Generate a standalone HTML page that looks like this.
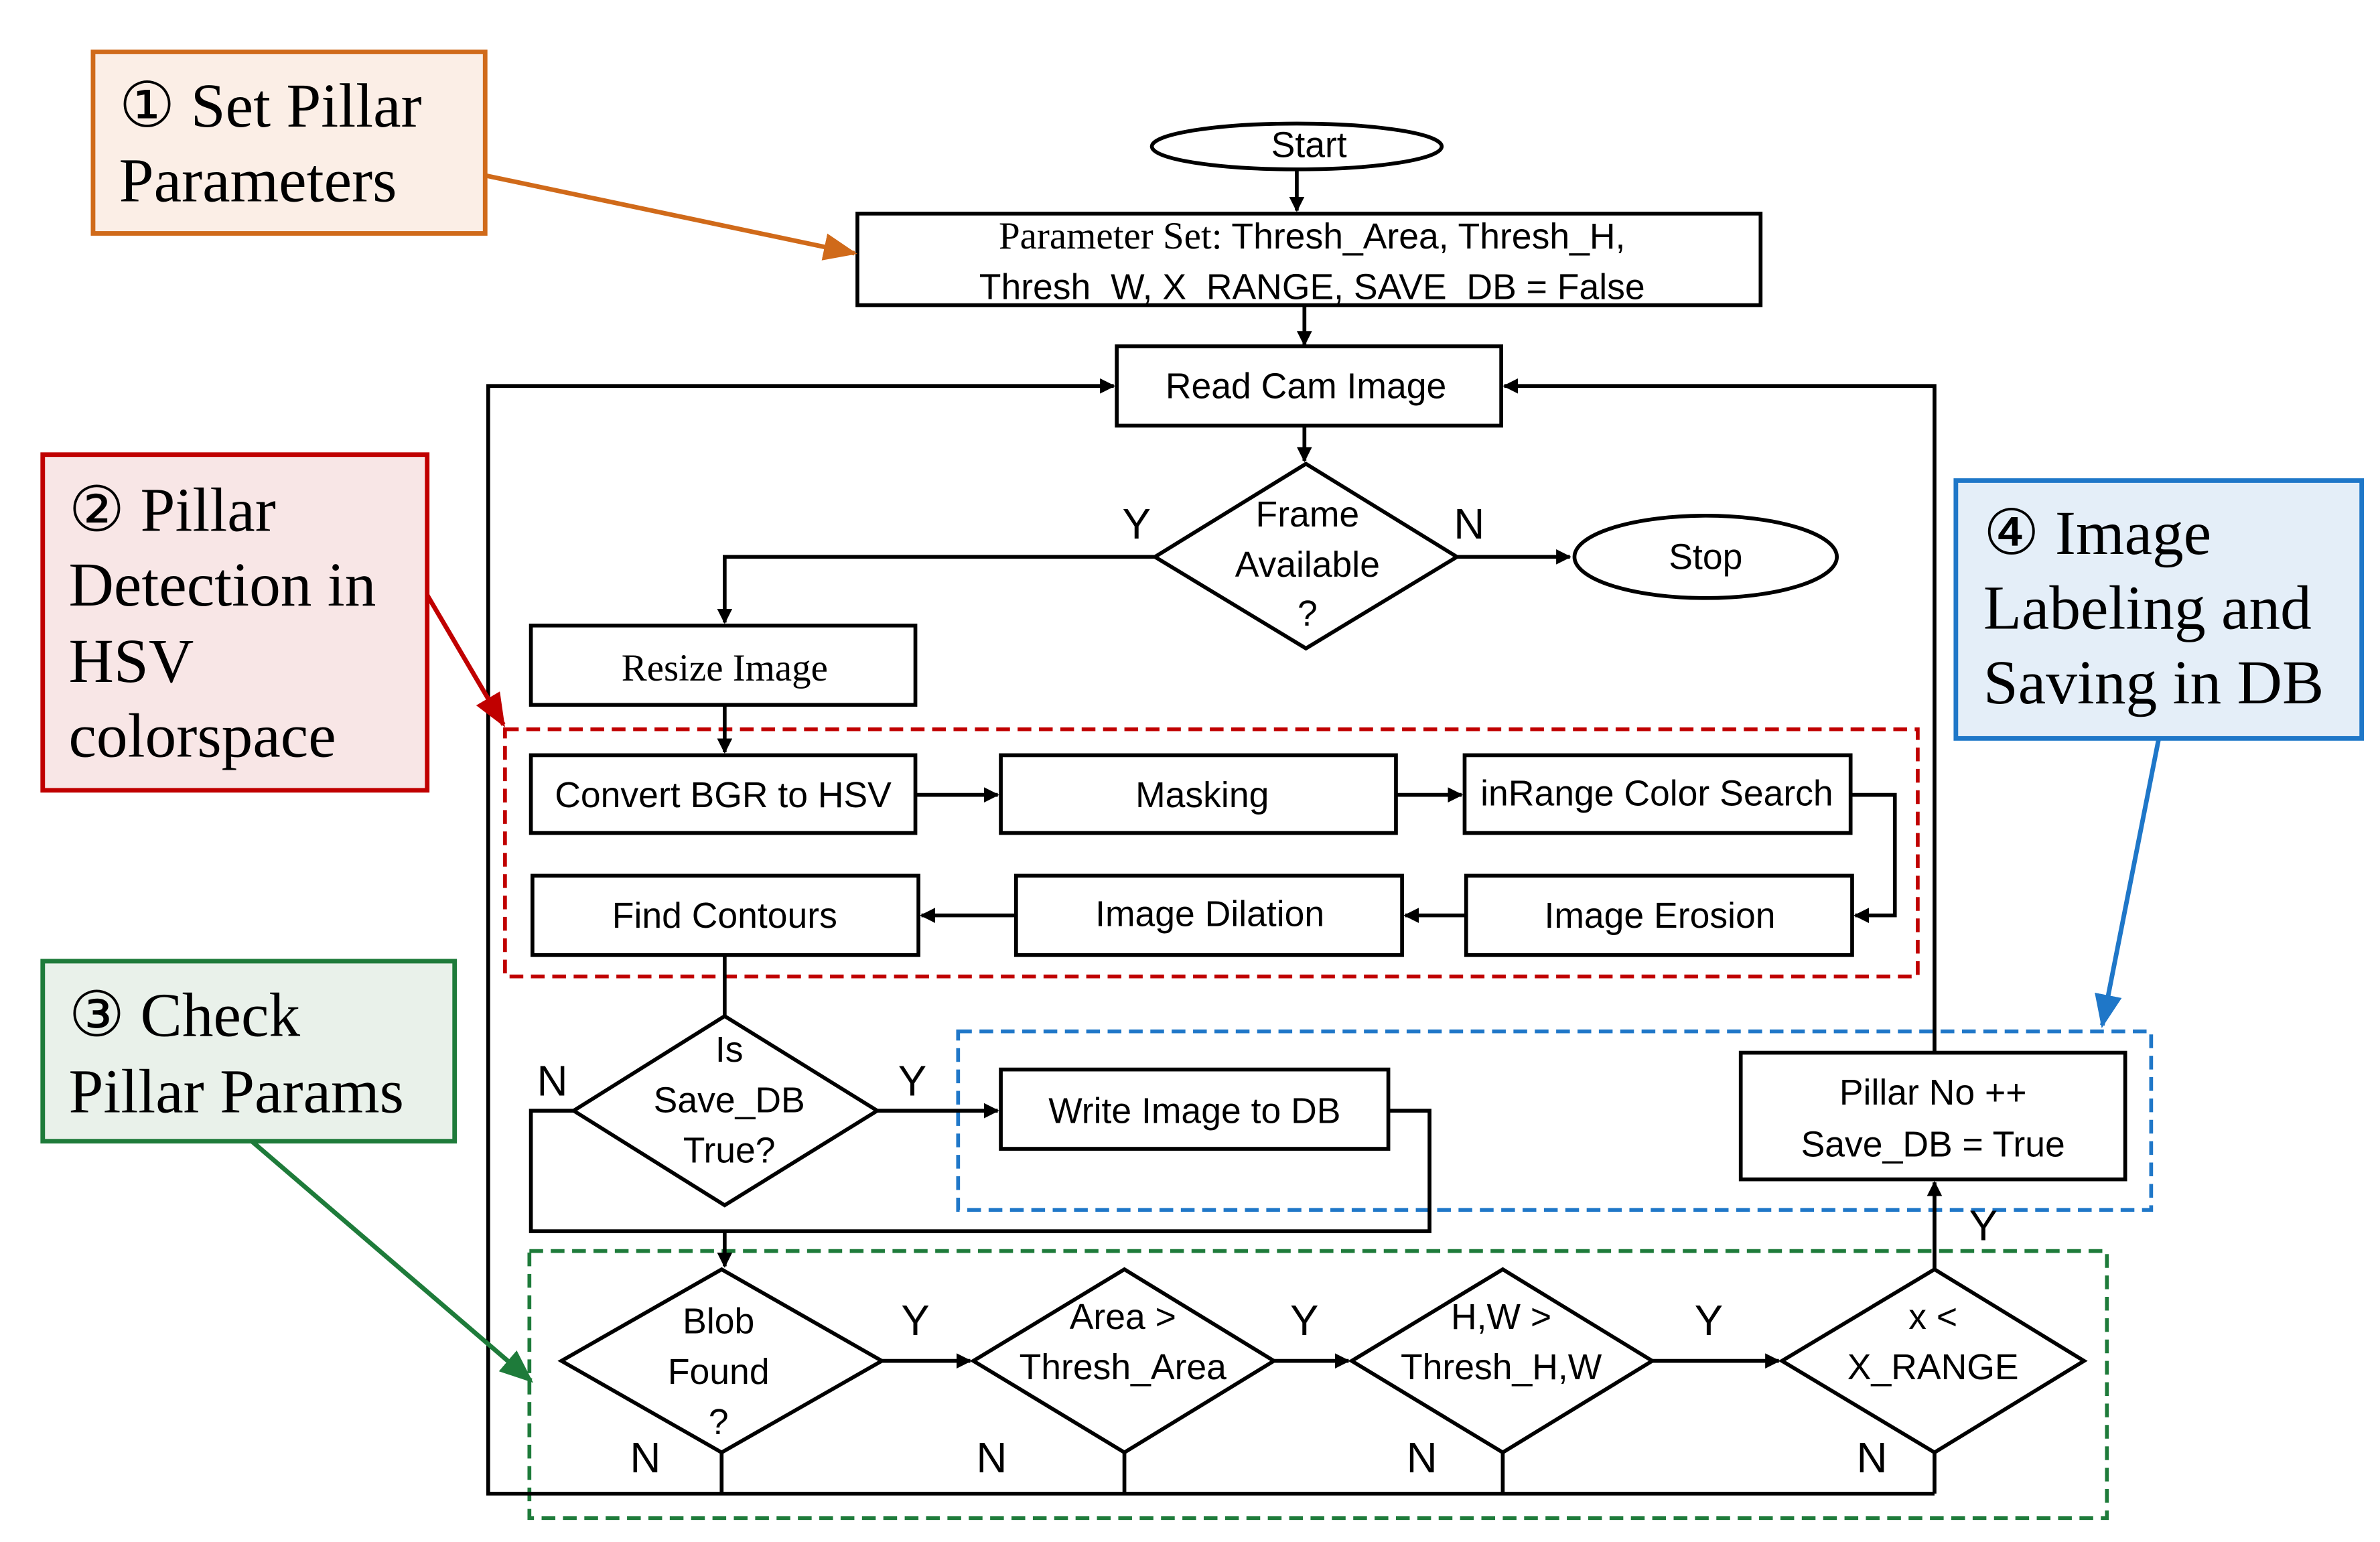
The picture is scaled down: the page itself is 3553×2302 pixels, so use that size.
<!DOCTYPE html>
<html><head><meta charset="utf-8"><style>
html,body{margin:0;padding:0;background:#fff;}
svg{display:block;}
.s{font-family:"Liberation Sans",sans-serif;font-size:23.5px;fill:#000;}
.r{font-family:"Liberation Serif",serif;font-size:25px;}
.b{font-family:"Liberation Serif",serif;font-size:41px;fill:#000;}
.l{font-family:"Liberation Sans",sans-serif;font-size:28px;fill:#000;}
</style></head><body>
<svg width="3553" height="2302" viewBox="0 0 1560 1010.7" preserveAspectRatio="none" xmlns="http://www.w3.org/2000/svg">
<defs>
<marker id="a" markerWidth="10" markerHeight="10" refX="9" refY="5" orient="auto" markerUnits="userSpaceOnUse"><path d="M0,0 L10,5 L0,10 z" fill="#000"/></marker>
<marker id="ao" markerWidth="22" markerHeight="18" refX="20" refY="9" orient="auto" markerUnits="userSpaceOnUse"><path d="M0,0 L22,9 L0,18 z" fill="#d06a1a"/></marker>
<marker id="ar" markerWidth="22" markerHeight="18" refX="20" refY="9" orient="auto" markerUnits="userSpaceOnUse"><path d="M0,0 L22,9 L0,18 z" fill="#c00000"/></marker>
<marker id="ag" markerWidth="22" markerHeight="18" refX="20" refY="9" orient="auto" markerUnits="userSpaceOnUse"><path d="M0,0 L22,9 L0,18 z" fill="#1e7b3a"/></marker>
<marker id="ab" markerWidth="22" markerHeight="18" refX="20" refY="9" orient="auto" markerUnits="userSpaceOnUse"><path d="M0,0 L22,9 L0,18 z" fill="#1f77c8"/></marker>
</defs>
<g stroke="#000" stroke-width="2.5" fill="none">
<rect x="331" y="478" width="926" height="162" stroke="#c00000" stroke-dasharray="9,5"/>
<rect x="628" y="676" width="782" height="117" stroke="#1f77c8" stroke-dasharray="9,5"/>
<rect x="347" y="820" width="1034" height="175" stroke="#1e7b3a" stroke-dasharray="9,5"/>
<ellipse cx="850" cy="96" rx="95" ry="15" fill="#fff"/>
<line x1="850" y1="111" x2="850" y2="138" marker-end="url(#a)"/>
<rect x="562" y="140" width="592" height="60" fill="#fff"/>
<line x1="855" y1="200" x2="855" y2="226" marker-end="url(#a)"/>
<rect x="732" y="227" width="252" height="52" fill="#fff"/>
<line x1="855" y1="279" x2="855" y2="302" marker-end="url(#a)"/>
<polygon points="856,304 955,365 856,425 757,365" fill="#fff"/>
<line x1="955" y1="365" x2="1029" y2="365" marker-end="url(#a)"/>
<ellipse cx="1118" cy="365" rx="86" ry="27" fill="#fff"/>
<polyline points="757,365 475,365 475,408" marker-end="url(#a)"/>
<rect x="348" y="410" width="252" height="52" fill="#fff"/>
<line x1="475" y1="462" x2="475" y2="493" marker-end="url(#a)"/>
<rect x="348" y="495" width="252" height="51" fill="#fff"/>
<rect x="656" y="495" width="259" height="51" fill="#fff"/>
<rect x="960" y="495" width="253" height="51" fill="#fff"/>
<line x1="600" y1="521" x2="654" y2="521" marker-end="url(#a)"/>
<line x1="915" y1="521" x2="958" y2="521" marker-end="url(#a)"/>
<polyline points="1213,521 1242,521 1242,600 1216,600" marker-end="url(#a)"/>
<rect x="961" y="574" width="253" height="52" fill="#fff"/>
<rect x="666" y="574" width="253" height="52" fill="#fff"/>
<rect x="349" y="574" width="253" height="52" fill="#fff"/>
<line x1="961" y1="600" x2="921" y2="600" marker-end="url(#a)"/>
<line x1="666" y1="600" x2="604" y2="600" marker-end="url(#a)"/>
<line x1="475" y1="626" x2="475" y2="666"/>
<polygon points="475,666 575,728 475,790 376,728" fill="#fff"/>
<line x1="575" y1="728" x2="654" y2="728" marker-end="url(#a)"/>
<rect x="656" y="701" width="254" height="52" fill="#fff"/>
<polyline points="910,728 937,728 937,807 348,807 348,728 376,728"/>
<line x1="475" y1="807" x2="475" y2="830" marker-end="url(#a)"/>
<rect x="1141" y="690" width="252" height="83" fill="#fff"/>
<polygon points="473,832 578,892 473,952 368,892" fill="#fff"/>
<polygon points="737,832 835,892 737,952 638,892" fill="#fff"/>
<polygon points="985,832 1083,892 985,952 886,892" fill="#fff"/>
<polygon points="1268,832 1366,892 1268,952 1168,892" fill="#fff"/>
<line x1="578" y1="892" x2="636" y2="892" marker-end="url(#a)"/>
<line x1="835" y1="892" x2="884" y2="892" marker-end="url(#a)"/>
<line x1="1083" y1="892" x2="1166" y2="892" marker-end="url(#a)"/>
<line x1="1268" y1="832" x2="1268" y2="775" marker-end="url(#a)"/>
<line x1="473" y1="952" x2="473" y2="979"/>
<line x1="737" y1="952" x2="737" y2="979"/>
<line x1="985" y1="952" x2="985" y2="979"/>
<line x1="1268" y1="952" x2="1268" y2="979"/>
<polyline points="1268,979 320,979 320,253 730,253" marker-end="url(#a)"/>
<polyline points="1268,690 1268,253 986,253" marker-end="url(#a)"/>
</g>
<rect x="61" y="34" width="257" height="119" fill="#fbeee6" stroke="#d06a1a" stroke-width="3"/>
<line x1="318" y1="115" x2="560" y2="166" stroke="#d06a1a" stroke-width="3" marker-end="url(#ao)"/>
<rect x="28" y="298" width="252" height="220" fill="#f8e6e6" stroke="#c00000" stroke-width="3"/>
<line x1="280" y1="390" x2="330" y2="475" stroke="#c00000" stroke-width="3" marker-end="url(#ar)"/>
<rect x="28" y="630" width="270" height="118" fill="#e9f1ea" stroke="#1e7b3a" stroke-width="3"/>
<line x1="165" y1="748" x2="348" y2="905" stroke="#1e7b3a" stroke-width="3" marker-end="url(#ag)"/>
<rect x="1282" y="315" width="266" height="169" fill="#e4eef8" stroke="#1f77c8" stroke-width="3"/>
<line x1="1415" y1="484" x2="1378" y2="672" stroke="#1f77c8" stroke-width="3" marker-end="url(#ab)"/>
<g class="b">
<text x="78" y="83">① Set Pillar</text><text x="78" y="132">Parameters</text>
<text x="45" y="348">② Pillar</text><text x="45" y="397">Detection in</text><text x="45" y="447">HSV</text><text x="45" y="496">colorspace</text>
<text x="45" y="679">③ Check</text><text x="45" y="729">Pillar Params</text>
<text x="1300" y="363">④ Image</text><text x="1300" y="412">Labeling and</text><text x="1300" y="461">Saving in DB</text>
</g>
<g class="s" text-anchor="middle">
<text x="858" y="103">Start</text>
<text x="860" y="163"><tspan class="r">Parameter Set:</tspan> Thresh_Area, Thresh_H,</text>
<text x="860" y="196">Thresh_W, X_RANGE, SAVE_DB = False</text>
<text x="856" y="261">Read Cam Image</text>
<text x="857" y="345">Frame</text><text x="857" y="378">Available</text><text x="857" y="410">?</text>
<text x="1118" y="373">Stop</text>
<text x="475" y="446" class="r">Resize Image</text>
<text x="474" y="529">Convert BGR to HSV</text>
<text x="788" y="529">Masking</text>
<text x="1086" y="528">inRange Color Search</text>
<text x="1088" y="608">Image Erosion</text>
<text x="793" y="607">Image Dilation</text>
<text x="475" y="608">Find Contours</text>
<text x="478" y="696">Is</text><text x="478" y="729">Save_DB</text><text x="478" y="762">True?</text>
<text x="783" y="736">Write Image to DB</text>
<text x="1267" y="724">Pillar No ++</text><text x="1267" y="758">Save_DB = True</text>
<text x="471" y="874">Blob</text><text x="471" y="907">Found</text><text x="471" y="940">?</text>
<text x="736" y="871">Area &gt;</text><text x="736" y="904">Thresh_Area</text>
<text x="984" y="871">H,W &gt;</text><text x="984" y="904">Thresh_H,W</text>
<text x="1267" y="871">x &lt;</text><text x="1267" y="904">X_RANGE</text>
</g>
<g class="l" text-anchor="middle">
<text x="745" y="353">Y</text><text x="963" y="353">N</text>
<text x="362" y="718">N</text><text x="598" y="718">Y</text>
<text x="600" y="875">Y</text><text x="855" y="875">Y</text><text x="1120" y="875">Y</text><text x="1300" y="813">Y</text>
<text x="423" y="965">N</text><text x="650" y="965">N</text><text x="932" y="965">N</text><text x="1227" y="965">N</text>
</g>
</svg>
</body></html>
